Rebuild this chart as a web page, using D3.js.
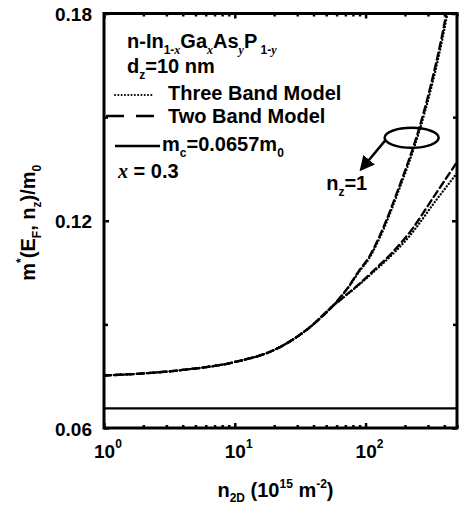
<!DOCTYPE html>
<html>
<head>
<meta charset="utf-8">
<script src="https://cdn.jsdelivr.net/npm/d3@7"></script>
<style>
  body { margin: 0; background: #fff; }
  svg { display: block; }
  text { font-family: "Liberation Sans", Arial, sans-serif; font-weight: bold; fill: #000; }
  .it { font-family: "Liberation Serif", "Times New Roman", serif; font-style: italic; font-weight: bold; }
</style>
</head>
<body>
<svg width="462" height="508"></svg>
<script>

// values (n2D in 1e15 m^-2, m*/m0)
var nCommon = [1, 2, 4, 10, 20, 37, 55]
var mCommon = [0.0752, 0.0758, 0.0768, 0.0791, 0.0826, 0.0890, 0.0950]

var nUpper = [75, 89, 106, 126, 180, 255, 315, 420, 470]
var mUpperThree = [0.1010, 0.1052, 0.1090, 0.1144, 0.1289, 0.1454, 0.1579, 0.1795, 0.1900]
var mUpperTwo   = [0.1012, 0.1055, 0.1094, 0.1150, 0.1297, 0.1464, 0.1592, 0.1812, 0.1920]

var nLower = [70, 90, 120, 160, 214, 344, 500]
var mLowerThree = [0.0982, 0.1016, 0.1058, 0.1102, 0.1153, 0.1258, 0.1338]
var mLowerTwo   = [0.0983, 0.1018, 0.1062, 0.1108, 0.1163, 0.1278, 0.1370]

var mc = 0.0657

var yMajor = [0.06, 0.12, 0.18]
var yMinor = [0.09, 0.15]
var xMajor = [1, 10, 100]
var xMajorExp = ["0", "1", "2"]

// annotation (ellipse + arrow) in data units
var ellipseAt = {n: 225, m: 0.144}
var arrowFrom = {n: 143, m: 0.1435}
var arrowTo = {n: 93, m: 0.1350}
var labelAt = {n: 50, m: 0.1290}

var plot = {left: 104, right: 457, top: 13.5, bottom: 428}

var svg = d3.select("svg")

var xScale = d3.scaleLog()
    .domain([1, 500])
    .range([plot.left, plot.right])

var yScale = d3.scaleLinear()
    .domain([0.06, 0.18])
    .range([plot.bottom, plot.top])

var join = function(ns, ms) {
    return ns.map(function(n, i) { return {n: n, m: ms[i]} })
}
var series = [
    {name: "upperThree", data: join(nCommon, mCommon).concat(join(nUpper, mUpperThree)), dash: "0.1,3.2", width: 2.3},
    {name: "upperTwo",   data: join(nCommon, mCommon).concat(join(nUpper, mUpperTwo)),   dash: "7,4", width: 2.3},
    {name: "lowerThree", data: join(nCommon, mCommon).concat(join(nLower, mLowerThree)), dash: "0.1,3.2", width: 2.3},
    {name: "lowerTwo",   data: join(nCommon, mCommon).concat(join(nLower, mLowerTwo)),   dash: "7,4", width: 2.3}
]

svg.append("clipPath").attr("id", "clip")
    .append("rect")
    .attr("x", plot.left).attr("y", plot.top)
    .attr("width", plot.right - plot.left)
    .attr("height", plot.bottom - plot.top)

// minor x ticks 2..9 in each decade
var xMinor = xScale.ticks().filter(function(v) {
    return xMajor.indexOf(v) < 0
})

var tickGroup = function(axis, tx, ty) {
    var g = svg.append("g")
        .attr("transform", "translate(" + tx + "," + ty + ")")
        .call(axis)
    g.select(".domain").remove()
    g.selectAll("line").attr("stroke", "#000").attr("stroke-width", 2.5)
    return g
}

tickGroup(d3.axisBottom(xScale).tickValues(xMinor).tickSize(-3).tickFormat(""), 0, plot.bottom)
tickGroup(d3.axisBottom(xScale).tickValues(xMajor).tickSize(-5).tickFormat(""), 0, plot.bottom)
tickGroup(d3.axisTop(xScale).tickValues(xMinor).tickSize(-3).tickFormat(""), 0, plot.top)
tickGroup(d3.axisTop(xScale).tickValues(xMajor).tickSize(-5).tickFormat(""), 0, plot.top)
tickGroup(d3.axisLeft(yScale).tickValues(yMinor).tickSize(-4).tickFormat(""), plot.left, 0)
tickGroup(d3.axisLeft(yScale).tickValues(yMajor).tickSize(-5).tickFormat(""), plot.left, 0)
tickGroup(d3.axisRight(yScale).tickValues(yMinor).tickSize(-4).tickFormat(""), plot.right, 0)
tickGroup(d3.axisRight(yScale).tickValues(yMajor).tickSize(-5).tickFormat(""), plot.right, 0)

// y tick labels
var yl = svg.append("g")
    .attr("transform", "translate(" + plot.left + ",0)")
    .call(d3.axisLeft(yScale).tickValues(yMajor).tickSize(0).tickPadding(12).tickFormat(d3.format(".2f")))
yl.select(".domain").remove()
yl.selectAll("text")
    .attr("font-size", 19)
    .attr("font-family", "Liberation Sans, Arial, sans-serif")
    .attr("font-weight", "bold")
    .attr("dy", "0.38em")

// x tick labels 10^k
xMajor.forEach(function(v, i) {
    var t = svg.append("text")
        .attr("x", xScale(v) - 10)
        .attr("y", 458)
        .attr("font-size", 19)
    t.append("tspan").text("10")
    t.append("tspan").attr("font-size", 12).attr("dy", -10).text(xMajorExp[i])
})

// m_c line
svg.append("line")
    .attr("x1", plot.left).attr("x2", plot.right)
    .attr("y1", yScale(mc)).attr("y2", yScale(mc))
    .attr("stroke", "#000").attr("stroke-width", 2.2)

// curves
var lineGenerator = d3.line()
    .x(function(d) { return xScale(d.n) })
    .y(function(d) { return yScale(d.m) })
    .curve(d3.curveMonotoneX)

svg.append("g")
    .attr("clip-path", "url(#clip)")
    .selectAll("path")
    .data(series)
    .enter()
    .append("path")
    .attr("d", function(s) { return lineGenerator(s.data) })
    .attr("fill", "none")
    .attr("stroke", "#000")
    .attr("stroke-width", function(s) { return s.width })
    .attr("stroke-dasharray", function(s) { return s.dash })
    .attr("stroke-linecap", "round")

// frame
svg.append("rect")
    .attr("x", plot.left).attr("y", plot.top)
    .attr("width", plot.right - plot.left)
    .attr("height", plot.bottom - plot.top)
    .attr("fill", "none")
    .attr("stroke", "#000")
    .attr("stroke-width", 3)

// legend block
var fs = 20, sub = 12

var t1 = svg.append("text").attr("x", 127).attr("y", 48).attr("font-size", fs)
t1.append("tspan").text("n-In")
t1.append("tspan").attr("font-size", sub).attr("dy", 6).text("1-")
t1.append("tspan").attr("font-size", sub).attr("class", "it").text("x")
t1.append("tspan").attr("dy", -6).text("Ga")
t1.append("tspan").attr("font-size", sub).attr("dy", 6).attr("class", "it").text("x")
t1.append("tspan").attr("dy", -6).text("As")
t1.append("tspan").attr("font-size", sub).attr("dy", 6).attr("class", "it").text("y")
t1.append("tspan").attr("dy", -6).text("P")
t1.append("tspan").attr("font-size", sub).attr("dy", 6).text("\u00a01-")
t1.append("tspan").attr("font-size", sub).attr("class", "it").text("y")

var t2 = svg.append("text").attr("x", 127).attr("y", 73).attr("font-size", fs)
t2.append("tspan").text("d")
t2.append("tspan").attr("font-size", sub).attr("dy", 6).text("z")
t2.append("tspan").attr("dy", -6).text("=10 nm")

svg.append("line")
    .attr("x1", 115).attr("x2", 152).attr("y1", 95).attr("y2", 95)
    .attr("stroke", "#000").attr("stroke-width", 2)
    .attr("stroke-dasharray", "0.1,3.2").attr("stroke-linecap", "round")
svg.append("text").attr("x", 168).attr("y", 100).attr("font-size", fs).text("Three Band Model")

svg.append("line")
    .attr("x1", 106).attr("x2", 156).attr("y1", 116).attr("y2", 116)
    .attr("stroke", "#000").attr("stroke-width", 2.5)
    .attr("stroke-dasharray", "18,12")
svg.append("text").attr("x", 168).attr("y", 123).attr("font-size", fs).text("Two Band Model")

svg.append("line")
    .attr("x1", 115).attr("x2", 160).attr("y1", 146).attr("y2", 146)
    .attr("stroke", "#000").attr("stroke-width", 2.5)
var t3 = svg.append("text").attr("x", 162).attr("y", 151).attr("font-size", fs)
t3.append("tspan").text("m")
t3.append("tspan").attr("font-size", sub).attr("dy", 6).text("c")
t3.append("tspan").attr("dy", -6).text("=0.0657m")
t3.append("tspan").attr("font-size", sub).attr("dy", 6).text("0")

var t4 = svg.append("text").attr("x", 118).attr("y", 178).attr("font-size", fs)
t4.append("tspan").attr("class", "it").text("x")
t4.append("tspan").text(" = 0.3")

// annotation
svg.append("ellipse")
    .attr("cx", xScale(ellipseAt.n)).attr("cy", yScale(ellipseAt.m))
    .attr("rx", 27).attr("ry", 10)
    .attr("fill", "none").attr("stroke", "#000").attr("stroke-width", 2.5)

svg.append("defs").append("marker")
    .attr("id", "arrow")
    .attr("viewBox", "0 0 10 10")
    .attr("refX", 8).attr("refY", 5)
    .attr("markerWidth", 6).attr("markerHeight", 6)
    .attr("orient", "auto")
    .append("path").attr("d", "M0,0L10,5L0,10z").attr("fill", "#000")

svg.append("line")
    .attr("x1", xScale(arrowFrom.n)).attr("y1", yScale(arrowFrom.m))
    .attr("x2", xScale(arrowTo.n)).attr("y2", yScale(arrowTo.m))
    .attr("stroke", "#000").attr("stroke-width", 2.5)
    .attr("marker-end", "url(#arrow)")

var t5 = svg.append("text").attr("x", xScale(labelAt.n)).attr("y", yScale(labelAt.m)).attr("font-size", fs)
t5.append("tspan").text("n")
t5.append("tspan").attr("font-size", sub).attr("dy", 6).text("z")
t5.append("tspan").attr("dy", -6).text("=1")

// axis titles
var xt = svg.append("text")
    .attr("x", (plot.left + plot.right) / 2 - 5).attr("y", 497)
    .attr("text-anchor", "middle").attr("font-size", fs)
xt.append("tspan").text("n")
xt.append("tspan").attr("font-size", sub).attr("dy", 5).text("2D")
xt.append("tspan").attr("dy", -5).text(" (10")
xt.append("tspan").attr("font-size", sub).attr("dy", -9).text("15")
xt.append("tspan").attr("dy", 9).text(" m")
xt.append("tspan").attr("font-size", sub).attr("dy", -9).text("-2")
xt.append("tspan").attr("dy", 9).text(")")

var yt = svg.append("text")
    .attr("transform", "translate(35," + ((plot.top + plot.bottom) / 2 + 2) + ") rotate(-90)")
    .attr("text-anchor", "middle").attr("font-size", fs)
yt.append("tspan").text("m")
yt.append("tspan").attr("font-size", sub).attr("dy", -10).text("*")
yt.append("tspan").attr("dy", 10).text("(E")
yt.append("tspan").attr("font-size", sub).attr("dy", 6).text("F")
yt.append("tspan").attr("dy", -6).text(", n")
yt.append("tspan").attr("font-size", sub).attr("dy", 6).text("z")
yt.append("tspan").attr("dy", -6).text(")/m")
yt.append("tspan").attr("font-size", sub).attr("dy", 6).text("0")

</script>
</body>
</html>
